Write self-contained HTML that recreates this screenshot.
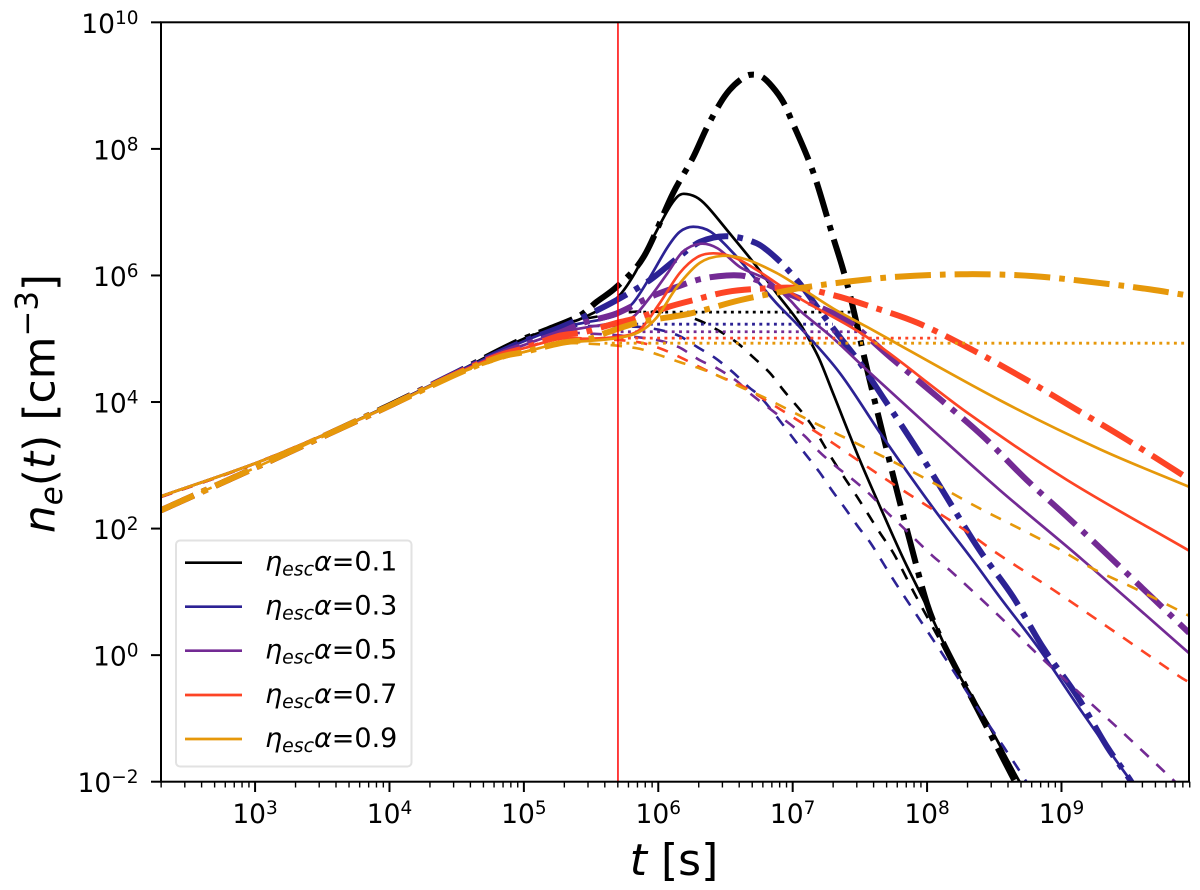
<!DOCTYPE html>
<html lang="en">
<head>
<meta charset="utf-8">
<title>Electron density vs time</title>
<style>
  html, body { margin: 0; padding: 0; background: #fff; }
  svg { display: block; font-family: "DejaVu Sans", "Liberation Sans", sans-serif; fill: #000; }
  .tick-label { font-size: 26.5px; }
  .axis-title { font-size: 44px; }
  .legend-text { font-size: 27px; }
  .it { font-style: italic; }
</style>
</head>
<body>
<svg id="chart" xmlns="http://www.w3.org/2000/svg" width="1200" height="890" viewBox="0 0 1200 890">
  <defs>
    <clipPath id="plot-clip"><rect x="161" y="22.3" width="1028" height="759.4"></rect></clipPath>
  </defs>
  <rect x="0" y="0" width="1200" height="890" fill="#ffffff"></rect>
  <g id="series-layer" clip-path="url(#plot-clip)"></g>
  <g id="tick-layer"></g>
  <rect x="161" y="22.3" width="1028" height="759.4" fill="none" stroke="#000" stroke-width="2"></rect>

  <text class="axis-title" x="674" y="875" text-anchor="middle"><tspan class="it">t</tspan> [s]</text>
  <text class="axis-title" transform="translate(54.5,403.5) rotate(-90)" x="0" y="0" text-anchor="middle"><tspan class="it">n</tspan><tspan class="it" dy="7.5" font-size="30.8">e</tspan><tspan dy="-7.5">(</tspan><tspan class="it">t</tspan>) [cm<tspan dy="-17" font-size="30.8">−3</tspan><tspan dy="17">]</tspan></text>

  <g>
    <rect x="176" y="540.5" width="235.5" height="226" rx="4" ry="4" fill="#ffffff" fill-opacity="0.8" stroke="#e2e2e2" stroke-width="2"></rect>
    <g>
      <line x1="185" x2="242" y1="562.7" y2="562.7" stroke="#000000" stroke-width="2.7"></line>
      <text class="legend-text" x="265" y="570.7"><tspan class="it">η</tspan><tspan class="it" dy="5" font-size="18.9">esc</tspan><tspan class="it" dy="-5">α</tspan>=0.1</text>
    </g>
    <g>
      <line x1="185" x2="242" y1="606.7" y2="606.7" stroke="#2c2294" stroke-width="2.7"></line>
      <text class="legend-text" x="265" y="614.7"><tspan class="it">η</tspan><tspan class="it" dy="5" font-size="18.9">esc</tspan><tspan class="it" dy="-5">α</tspan>=0.3</text>
    </g>
    <g>
      <line x1="185" x2="242" y1="650.7" y2="650.7" stroke="#732a94" stroke-width="2.7"></line>
      <text class="legend-text" x="265" y="658.7"><tspan class="it">η</tspan><tspan class="it" dy="5" font-size="18.9">esc</tspan><tspan class="it" dy="-5">α</tspan>=0.5</text>
    </g>
    <g>
      <line x1="185" x2="242" y1="695" y2="695" stroke="#fd4425" stroke-width="2.7"></line>
      <text class="legend-text" x="265" y="703"><tspan class="it">η</tspan><tspan class="it" dy="5" font-size="18.9">esc</tspan><tspan class="it" dy="-5">α</tspan>=0.7</text>
    </g>
    <g>
      <line x1="185" x2="242" y1="739" y2="739" stroke="#e6980a" stroke-width="2.7"></line>
      <text class="legend-text" x="265" y="747"><tspan class="it">η</tspan><tspan class="it" dy="5" font-size="18.9">esc</tspan><tspan class="it" dy="-5">α</tspan>=0.9</text>
    </g>
  </g>
</svg>
<script>
// All values are log10(t [s]) and log10(n_e [cm^-3]).
const xTickExponents = [3, 4, 5, 6, 7, 8, 9];
const yTickExponents = [-2, 0, 2, 4, 6, 8, 10];
const injectionTimeLog = 5.7;

// eta*alpha = 0.1
const tSolid01 = [2.3,3,3.5,4,4.5,4.82,5,5.19,5.44,5.69,5.81,5.94,6.07,6.14,6.19,6.28,6.36,6.51,6.71,6.88,7.05,7.13,7.20,7.30,7.5,7.67,7.82,8.0,8.22,8.45,8.68,8.8];
const nSolid01 = [2.51,3.03,3.47,3.95,4.47,4.82,5.0,5.15,5.33,5.64,5.98,6.51,7.03,7.24,7.29,7.24,7.10,6.72,6.2,5.72,5.25,4.96,4.67,4.14,3.08,2.25,1.54,0.76,-0.24,-1.07,-1.97,-2.4];
const tDashed01 = [2.3,3,4,4.5,5,5.27,5.49,5.78,5.96,6.11,6.29,6.44,6.59,6.71,6.83,6.93,7.13,7.30,7.48,7.65,7.75,7.90,8.04,8.22,8.45,8.68,8.8];
const nDashed01 = [2.5,3.03,3.94,4.47,5.0,5.22,5.33,5.42,5.43,5.40,5.30,5.14,4.93,4.70,4.46,4.19,3.67,3.08,2.5,1.93,1.61,1.0,0.45,-0.24,-1.07,-1.97,-2.4];
const tDashDot01 = [2.3,3,3.5,4,4.5,4.82,5,5.19,5.42,5.54,5.69,5.89,6.11,6.26,6.36,6.46,6.53,6.61,6.68,6.77,6.85,6.93,7.0,7.11,7.18,7.30,7.37,7.43,7.55,7.64,7.78,7.89,8.0,8.1,8.34,8.64,8.75];
const nDashDot01 = [2.29,2.96,3.45,3.95,4.47,4.82,5.0,5.16,5.37,5.58,5.82,6.29,7.3,7.87,8.33,8.72,8.93,9.09,9.17,9.14,8.98,8.74,8.41,7.87,7.46,6.61,6.13,5.66,4.55,3.76,2.56,1.66,0.81,0.28,-0.71,-1.94,-2.4];

// eta*alpha = 0.3
const tSolid03 = [2.3,3,3.5,4,4.5,4.82,5,5.27,5.44,5.69,5.81,5.94,6.07,6.16,6.26,6.39,6.56,6.71,6.88,7.05,7.35,7.67,8.04,8.34,8.54,8.84,9.16,9.51,9.6];
const nSolid03 = [2.51,3.03,3.47,3.94,4.47,4.79,4.96,5.18,5.25,5.37,5.56,5.98,6.45,6.69,6.77,6.69,6.35,5.98,5.56,5.19,4.46,3.45,2.34,1.5,0.92,0.08,-0.92,-1.97,-2.2];
const tDashed03 = [2.3,3,4,4.5,5,5.27,5.5,5.72,5.96,6.15,6.29,6.42,6.55,6.67,6.77,7.09,7.20,7.29,7.39,7.49,7.58,7.75,7.93,8.12,8.37,8.57,8.73,8.85];
const nDashed03 = [2.5,3.03,3.94,4.47,4.96,5.18,5.2,5.2,5.16,5.05,4.87,4.70,4.48,4.24,4.06,3.19,2.89,2.61,2.32,2.02,1.77,1.19,0.61,0.0,-0.82,-1.45,-1.97,-2.4];
const tDashDot03 = [2.3,3,3.5,4,4.5,4.82,5,5.27,5.44,5.69,5.94,6.14,6.31,6.51,6.73,6.88,7.05,7.20,7.35,7.5,7.67,7.93,8.15,8.39,8.64,8.86,9.12,9.34,9.51,9.6];
const nDashDot03 = [2.29,2.96,3.45,3.94,4.47,4.79,4.96,5.18,5.34,5.61,5.93,6.27,6.53,6.62,6.51,6.27,5.88,5.45,5.03,4.62,4.08,3.24,2.48,1.66,0.92,0.13,-0.66,-1.45,-1.97,-2.3];

// eta*alpha = 0.5
const tSolid05 = [2.3,3,3.5,4,4.5,4.82,5,5.27,5.44,5.69,5.81,5.94,6.07,6.18,6.31,6.44,6.61,6.81,6.98,7.05,7.30,7.55,8.04,8.54,9.16,9.95];
const nSolid05 = [2.51,3.03,3.47,3.94,4.46,4.76,4.90,5.1,5.17,5.26,5.34,5.66,6.04,6.37,6.5,6.43,6.13,5.93,5.61,5.45,5.01,4.51,3.56,2.61,1.5,0.03];
const tDashed05 = [2.3,3,4,4.5,5,5.27,5.5,5.72,5.99,6.15,6.31,6.44,6.59,6.68,7.08,7.20,7.33,7.45,7.58,7.70,7.82,8.04,8.17,8.54,8.79,9.14,9.49,9.83,9.95];
const nDashed05 = [2.5,3.03,3.94,4.46,4.90,5.08,5.08,5.05,4.98,4.87,4.66,4.53,4.32,4.14,3.48,3.21,2.97,2.77,2.53,2.26,2.02,1.57,1.34,0.61,0.08,-0.61,-1.29,-1.97,-2.2];
const tDashDot05 = [2.3,3,3.5,4,4.5,4.82,5,5.27,5.44,5.69,5.94,6.14,6.31,6.51,6.66,6.98,7.20,7.43,7.72,8.10,8.42,8.74,9.04,9.36,9.95];
const nDashDot05 = [2.29,2.96,3.45,3.94,4.46,4.76,4.90,5.10,5.25,5.4,5.66,5.82,5.94,6.0,5.98,5.7,5.5,5.25,4.72,4.04,3.45,2.77,2.19,1.55,0.35];

// eta*alpha = 0.7
const tSolid07 = [2.3,3,3.5,4,4.5,4.82,5,5.27,5.44,5.69,5.86,6.01,6.16,6.29,6.41,6.56,6.73,7.05,7.55,8.30,9.04,9.95];
const nSolid07 = [2.51,3.03,3.47,3.94,4.45,4.74,4.85,5.0,5.0,5.03,5.14,5.56,6.04,6.29,6.35,6.29,6.09,5.64,5.03,3.83,2.77,1.65];
const tDashed07 = [2.3,3,4,4.5,5,5.27,5.5,5.84,6.01,6.16,6.31,6.46,6.61,6.76,7.15,7.30,7.43,7.70,7.97,8.25,8.52,8.94,9.34,9.88,9.95];
const nDashed07 = [2.5,3.03,3.94,4.45,4.85,5.0,5.0,4.95,4.85,4.71,4.55,4.40,4.27,4.08,3.56,3.35,3.16,2.77,2.40,2.02,1.61,1.03,0.45,-0.34,-0.43];
const tDashDot07 = [2.3,3,3.5,4,4.5,4.82,5,5.27,5.44,5.69,5.86,6.07,6.26,6.51,6.76,7.05,7.30,7.55,7.93,8.34,8.74,9.12,9.49,9.95];
const nDashDot07 = [2.29,2.96,3.45,3.94,4.45,4.74,4.85,5.05,5.1,5.25,5.34,5.5,5.61,5.74,5.79,5.80,5.69,5.53,5.25,4.82,4.35,3.87,3.40,2.78];

// eta*alpha = 0.9
const tSolid09 = [2.3,3,3.5,4,4.5,4.82,5,5.27,5.44,5.69,5.86,5.99,6.14,6.31,6.48,6.66,6.88,7.05,7.30,7.55,8.54,9.29,9.95];
const nSolid09 = [2.51,3.03,3.47,3.94,4.44,4.71,4.79,4.93,4.96,5.01,5.11,5.34,5.82,6.2,6.31,6.25,6.04,5.82,5.48,5.19,4.03,3.25,2.66];
const tDashed09 = [2.3,3,4,4.5,5,5.27,5.5,5.84,6.01,6.16,6.31,6.46,6.61,6.78,7.05,7.20,7.50,7.80,8.10,8.39,8.67,8.97,9.23,9.53,9.87,9.95];
const nDashed09 = [2.29,2.96,3.94,4.44,4.79,4.92,4.92,4.85,4.74,4.63,4.53,4.40,4.24,4.08,3.79,3.63,3.32,3.0,2.66,2.32,2.02,1.69,1.37,1.07,0.71,0.62];
const tDashDot09 = [2.3,3,3.5,4,4.5,4.82,5,5.27,5.49,5.62,5.86,6.24,6.61,6.98,7.05,7.40,7.78,8.30,8.79,9.29,9.66,9.95];
const nDashDot09 = [2.29,2.96,3.45,3.94,4.44,4.71,4.79,4.93,5.0,5.1,5.26,5.4,5.61,5.77,5.80,5.90,5.98,6.02,5.99,5.88,5.78,5.68];

// flat dotted levels, one per eta*alpha
const etaLabels = ['0-1', '0-3', '0-5', '0-7', '0-9'];
const dottedLevels = [5.42, 5.23, 5.11, 5.01, 4.93];
const dottedStarts = [5.78, 5.72, 5.72, 5.72, 5.6];
const dottedEnds = [7.43, 7.30, 7.5, 8.07, 9.95];

const solidT = [tSolid01, tSolid03, tSolid05, tSolid07, tSolid09];
const solidN = [nSolid01, nSolid03, nSolid05, nSolid07, nSolid09];
const dashedT = [tDashed01, tDashed03, tDashed05, tDashed07, tDashed09];
const dashedN = [nDashed01, nDashed03, nDashed05, nDashed07, nDashed09];
const dashDotT = [tDashDot01, tDashDot03, tDashDot05, tDashDot07, tDashDot09];
const dashDotN = [nDashDot01, nDashDot03, nDashDot05, nDashDot07, nDashDot09];

const palette = ['#000000', '#2c2294', '#732a94', '#fd4425', '#e6980a'];

const SVG_NS = 'http://www.w3.org/2000/svg';
const seriesLayer = document.getElementById('series-layer');
const tickLayer = document.getElementById('tick-layer');

function xScale(logT) { return 161 + (logT - 2.3) * 134.4; }
function yScale(logN) { return 781.7 - (logN + 2) * 63.28; }

function smoothPath(ts, ns) {
  const pts = ts.map(function (t, i) { return [xScale(t), yScale(ns[i])]; });
  let d = 'M' + pts[0][0].toFixed(2) + ' ' + pts[0][1].toFixed(2);
  for (let i = 0; i < pts.length - 1; i++) {
    const p0 = pts[Math.max(i - 1, 0)];
    const p1 = pts[i];
    const p2 = pts[i + 1];
    const p3 = pts[Math.min(i + 2, pts.length - 1)];
    const seg = p2[0] - p1[0];
    const m1 = (p2[1] - p0[1]) / Math.max(p2[0] - p0[0], 0.01);
    const m2 = (p3[1] - p1[1]) / Math.max(p3[0] - p1[0], 0.01);
    d += 'C' + (p1[0] + seg / 3).toFixed(2) + ' ' + (p1[1] + m1 * seg / 3).toFixed(2) + ' ' +
         (p2[0] - seg / 3).toFixed(2) + ' ' + (p2[1] - m2 * seg / 3).toFixed(2) + ' ' +
         p2[0].toFixed(2) + ' ' + p2[1].toFixed(2);
  }
  return d;
}

function drawCurve(ts, ns, color, width, dash) {
  const el = document.createElementNS(SVG_NS, 'path');
  el.setAttribute('d', smoothPath(ts, ns));
  el.setAttribute('fill', 'none');
  el.setAttribute('stroke', color);
  el.setAttribute('stroke-width', width);
  el.setAttribute('stroke-linejoin', 'round');
  if (dash) { el.setAttribute('stroke-dasharray', dash); }
  seriesLayer.appendChild(el);
  return el;
}

palette.forEach(function (color, i) {
  const solid = drawCurve(solidT[i], solidN[i], color, 2.7, null);
  
  

  const dashed = drawCurve(dashedT[i], dashedN[i], color, 2.6, '11.5 10.5');
  
  

  const dotted = document.createElementNS(SVG_NS, 'line');
  dotted.setAttribute('x1', xScale(dottedStarts[i]));
  dotted.setAttribute('x2', xScale(dottedEnds[i]));
  dotted.setAttribute('y1', yScale(dottedLevels[i]));
  dotted.setAttribute('y2', yScale(dottedLevels[i]));
  dotted.setAttribute('stroke', color);
  dotted.setAttribute('stroke-width', 2.8);
  dotted.setAttribute('stroke-dasharray', '2.9 4.4');
  
  
  seriesLayer.appendChild(dotted);

  const dashDot = drawCurve(dashDotT[i], dashDotN[i], color, 6, '36 9 5.7 9');
  
  
});

const marker = document.createElementNS(SVG_NS, 'line');
marker.setAttribute('x1', xScale(injectionTimeLog));
marker.setAttribute('x2', xScale(injectionTimeLog));
marker.setAttribute('y1', 22.3);
marker.setAttribute('y2', 781.7);
marker.setAttribute('stroke', '#ff0000');
marker.setAttribute('stroke-width', 1.5);


seriesLayer.appendChild(marker);

function addTick(x1, y1, x2, y2, width) {
  const el = document.createElementNS(SVG_NS, 'line');
  el.setAttribute('x1', x1);
  el.setAttribute('y1', y1);
  el.setAttribute('x2', x2);
  el.setAttribute('y2', y2);
  el.setAttribute('stroke', '#000');
  el.setAttribute('stroke-width', width);
  tickLayer.appendChild(el);
  return el;
}

function addPowerLabel(exponent, x, y, anchor) {
  const text = document.createElementNS(SVG_NS, 'text');
  text.setAttribute('class', 'tick-label');
  text.setAttribute('x', x);
  text.setAttribute('y', y);
  text.setAttribute('text-anchor', anchor);
  text.appendChild(document.createTextNode('10'));
  const sup = document.createElementNS(SVG_NS, 'tspan');
  sup.setAttribute('dy', -9);
  sup.setAttribute('font-size', 18.5);
  sup.textContent = String(exponent).replace('-', '\u2212');
  text.appendChild(sup);
  tickLayer.appendChild(text);
  return text;
}

xTickExponents.forEach(function (e) {
  const tick = addTick(xScale(e), 781.7, xScale(e), 792, 2);
  
  
  const label = addPowerLabel(e, xScale(e), 823, 'middle');
  
  
});

for (let decade = 2; decade <= 9; decade++) {
  for (let k = 2; k <= 9; k++) {
    const logT = decade + Math.log10(k);
    if (logT < 2.3 - 0.002 || logT > 9.96) { continue; }
    const tick = addTick(xScale(logT), 781.7, xScale(logT), 787.5, 1.4);
    
    
  }
}

yTickExponents.forEach(function (e) {
  const tick = addTick(151, yScale(e), 161, yScale(e), 2);
  
  
  const label = addPowerLabel(e, 138.5, yScale(e) + 10.5, 'end');
  
  
});
</script>
</body>
</html>
